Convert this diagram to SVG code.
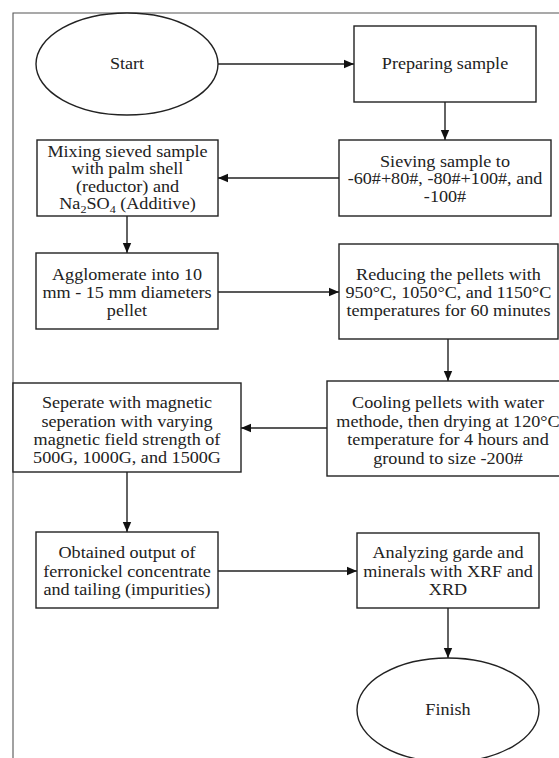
<svg xmlns="http://www.w3.org/2000/svg" width="559" height="758" viewBox="0 0 559 758">
<style>
  .shape { fill: #ffffff; stroke: #222222; stroke-width: 1.4; }
  .frame { fill: none; stroke: #555555; stroke-width: 1.1; }
  .conn { fill: none; stroke: #222222; stroke-width: 1.4; }
  .lbl { font-family: 'Liberation Serif', 'Times New Roman', Tinos, 'DejaVu Serif', serif; font-size: 16.5px; fill: #222222; text-anchor: middle; }
</style>
<defs>
  <marker id="arrow" viewBox="0 0 10 10" refX="10" refY="5" markerWidth="10" markerHeight="10" markerUnits="userSpaceOnUse" orient="auto">
    <path d="M0,0.8 L10,5 L0,9.2 Z" fill="#111111"/>
  </marker>
</defs>
<rect width="559" height="758" fill="#ffffff"/>
<path class="frame" d="M13,758 V13 H559"/>

<g id="connectors">
  <line class="conn" x1="218" y1="64" x2="354" y2="64" marker-end="url(#arrow)"/>
  <line class="conn" x1="445" y1="102" x2="445" y2="140" marker-end="url(#arrow)"/>
  <line class="conn" x1="339" y1="178" x2="218" y2="178" marker-end="url(#arrow)"/>
  <line class="conn" x1="127" y1="216" x2="127" y2="253" marker-end="url(#arrow)"/>
  <line class="conn" x1="218" y1="292" x2="339" y2="292" marker-end="url(#arrow)"/>
  <line class="conn" x1="448" y1="339" x2="448" y2="381" marker-end="url(#arrow)"/>
  <line class="conn" x1="327" y1="428" x2="241" y2="428" marker-end="url(#arrow)"/>
  <line class="conn" x1="127" y1="472" x2="127" y2="532" marker-end="url(#arrow)"/>
  <line class="conn" x1="218" y1="571" x2="357" y2="571" marker-end="url(#arrow)"/>
  <line class="conn" x1="448" y1="608" x2="448" y2="658" marker-end="url(#arrow)"/>
</g>

<g id="start">
  <ellipse class="shape" cx="127" cy="64" rx="91" ry="51"/>
  <g transform="translate(127,0) scale(1.1,1)"><text class="lbl" x="0" y="69.5">Start</text></g>
</g>

<g id="preparing">
  <rect class="shape" x="354" y="26" width="182" height="76"/>
  <g transform="translate(445,0) scale(1.1,1)"><text class="lbl" x="0" y="69.5">Preparing sample</text></g>
</g>

<g id="sieving">
  <rect class="shape" x="339" y="140" width="212" height="76"/>
  <g transform="translate(445,0) scale(1.1,1)">
    <text class="lbl" x="0" y="167">Sieving sample to</text>
    <text class="lbl" x="0" y="184.5">-60#+80#, -80#+100#, and</text>
    <text class="lbl" x="0" y="202">-100#</text>
  </g>
</g>

<g id="mixing">
  <rect class="shape" x="37" y="140" width="181" height="76"/>
  <g transform="translate(127.5,0) scale(1.1,1)">
    <text class="lbl" x="0" y="157">Mixing sieved sample</text>
    <text class="lbl" x="0" y="174.5">with palm shell</text>
    <text class="lbl" x="0" y="192">(reductor) and</text>
    <text class="lbl" x="0" y="209.5">Na<tspan font-size="11" dy="4">2</tspan><tspan dy="-4">SO</tspan><tspan font-size="11" dy="4">4</tspan><tspan dy="-4"> (Additive)</tspan></text>
  </g>
</g>

<g id="agglomerate">
  <rect class="shape" x="36" y="253" width="182" height="76"/>
  <g transform="translate(127,0) scale(1.1,1)">
    <text class="lbl" x="0" y="280">Agglomerate into 10</text>
    <text class="lbl" x="0" y="298">mm - 15 mm diameters</text>
    <text class="lbl" x="0" y="316">pellet</text>
  </g>
</g>

<g id="reducing">
  <rect class="shape" x="339" y="244" width="219" height="95"/>
  <g transform="translate(448.5,0) scale(1.1,1)">
    <text class="lbl" x="0" y="280">Reducing the pellets with</text>
    <text class="lbl" x="0" y="298">950°C, 1050°C, and 1150°C</text>
    <text class="lbl" x="0" y="316">temperatures for 60 minutes</text>
  </g>
</g>

<g id="cooling">
  <rect class="shape" x="327" y="381" width="242" height="95"/>
  <g transform="translate(448,0) scale(1.1,1)">
    <text class="lbl" x="0" y="408.5">Cooling pellets with water</text>
    <text class="lbl" x="0" y="427">methode, then drying at 120°C</text>
    <text class="lbl" x="0" y="445.5">temperature for 4 hours and</text>
    <text class="lbl" x="0" y="464">ground to size -200#</text>
  </g>
</g>

<g id="separate">
  <rect class="shape" x="13" y="383" width="228" height="89"/>
  <g transform="translate(127,0) scale(1.1,1)">
    <text class="lbl" x="0" y="408.5">Seperate with magnetic</text>
    <text class="lbl" x="0" y="427">seperation with varying</text>
    <text class="lbl" x="0" y="445.5">magnetic field strength of</text>
    <text class="lbl" x="0" y="463">500G, 1000G, and 1500G</text>
  </g>
</g>

<g id="obtained">
  <rect class="shape" x="36" y="532" width="182" height="76"/>
  <g transform="translate(127,0) scale(1.1,1)">
    <text class="lbl" x="0" y="558.5">Obtained output of</text>
    <text class="lbl" x="0" y="577">ferronickel concentrate</text>
    <text class="lbl" x="0" y="595.5">and tailing (impurities)</text>
  </g>
</g>

<g id="analyzing">
  <rect class="shape" x="357" y="533" width="182" height="75"/>
  <g transform="translate(448,0) scale(1.1,1)">
    <text class="lbl" x="0" y="558.5">Analyzing garde and</text>
    <text class="lbl" x="0" y="577">minerals with XRF and</text>
    <text class="lbl" x="0" y="595.5">XRD</text>
  </g>
</g>

<g id="finish">
  <ellipse class="shape" cx="448" cy="710" rx="91" ry="52"/>
  <g transform="translate(448,0) scale(1.1,1)"><text class="lbl" x="0" y="715.5">Finish</text></g>
</g>
</svg>
